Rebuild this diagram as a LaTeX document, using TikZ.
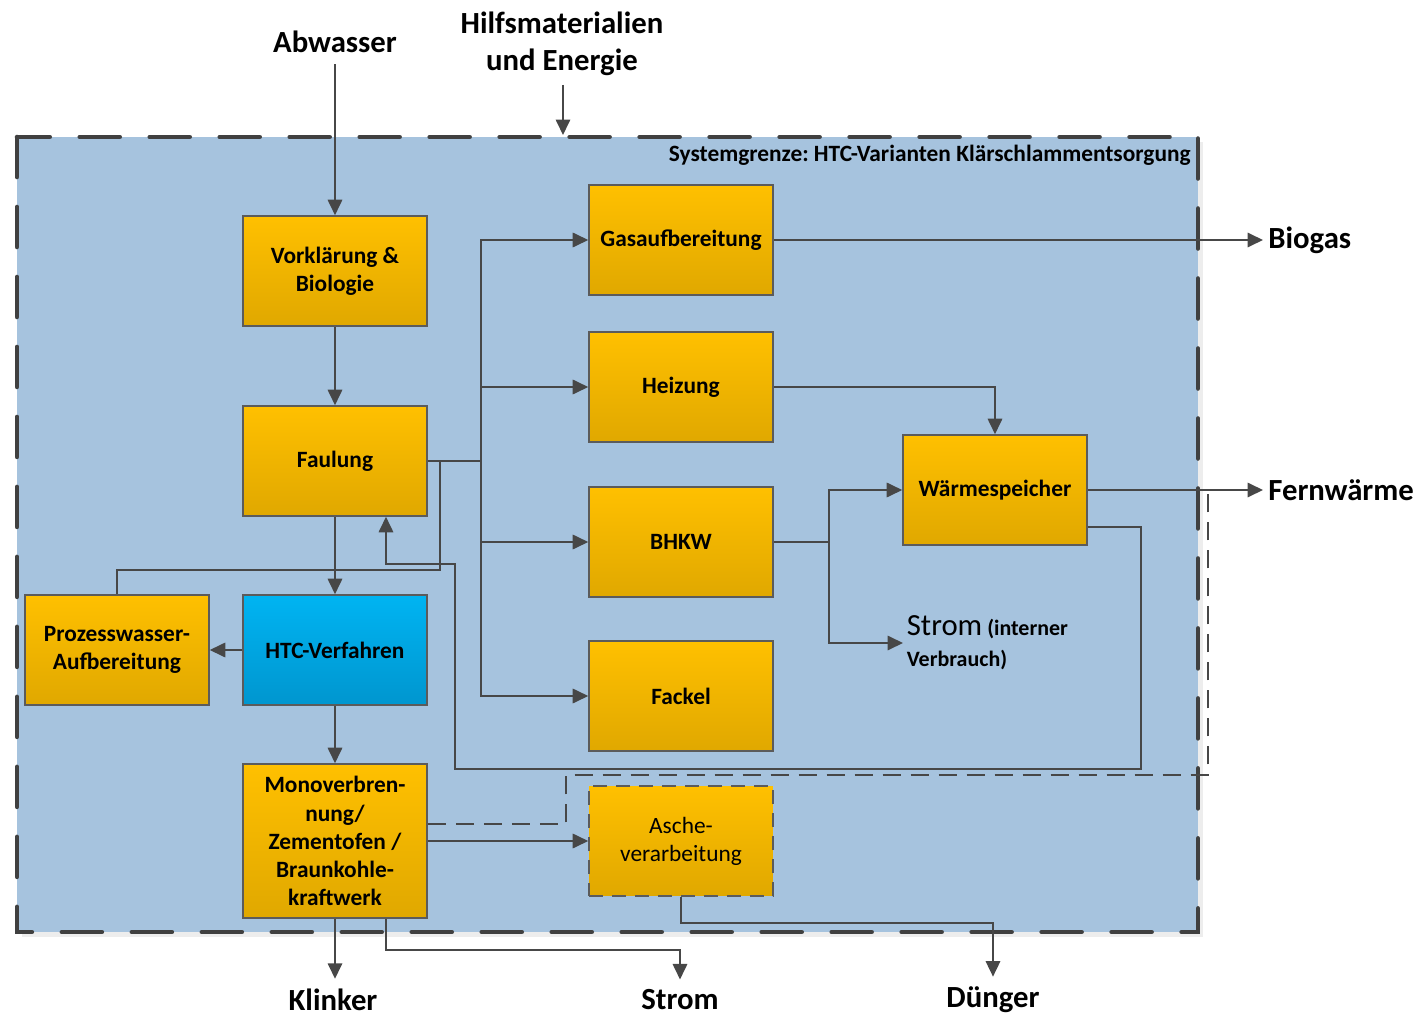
\documentclass[tikz,border=0pt]{standalone}
\usepackage{fontspec}
\setmainfont{Carlito}
\usetikzlibrary{arrows.meta}
\frenchspacing

\definecolor{grenzblau}{HTML}{A6C3DE}
\definecolor{grenzlinie}{HTML}{404040}
\definecolor{linie}{HTML}{474747}
\definecolor{rahmen}{HTML}{5B5B5B}
\definecolor{gelboben}{HTML}{FFC000}
\definecolor{gelbunten}{HTML}{E0A800}
\definecolor{blauoben}{HTML}{00B4F2}
\definecolor{blauunten}{HTML}{0096CF}

\tikzset{
  prozess/.style={draw=rahmen, line width=0.9pt, top color=gelboben, bottom color=gelbunten,
    minimum width=3.68cm, minimum height=2.2cm, inner sep=1pt, align=center,
    font=\bfseries\fontsize{13.3}{16}\selectfont},
  htc/.style={prozess, top color=blauoben, bottom color=blauunten},
  optional/.style={prozess, dash pattern=on 0.28cm off 0.18cm, font=\fontsize{13.3}{16}\selectfont},
  aussen/.style={font=\bfseries\fontsize{17.5}{21}\selectfont, align=center, inner sep=0pt},
  fluss/.style={draw=linie, line width=1pt, -{Triangle[length=3.1mm,width=2.9mm]}},
  leitung/.style={draw=linie, line width=1pt},
  waerme/.style={draw=linie, line width=1.1pt, dash pattern=on 0.36cm off 0.2cm},
}

\begin{document}
\begin{tikzpicture}[x=0.02cm, y=-0.02cm]
\useasboundingbox (0,0) rectangle (1421,1017);

% Systemgrenze
\fill[black!7] (22,142) rectangle (1203,937);
\draw[grenzlinie, fill=grenzblau, line width=2.6pt, line cap=round, dash pattern=on 0.8cm off 0.6cm] (17,137) rectangle (1198,932);
\node[anchor=east, inner sep=0pt, font=\bfseries\fontsize{13.3}{15}\selectfont] (grenze) at (1191,155) {Systemgrenze: HTC-Varianten Klärschlammentsorgung};

% Prozesse
\node[prozess] (vorklaerung) at (335,271) {Vorklärung \&\\Biologie};
\node[prozess] (faulung) at (335,461) {Faulung};
\node[htc] (htc) at (335,650) {HTC-Verfahren};
\node[prozess] (prozesswasser) at (117,650) {Prozesswasser-\\Aufbereitung};
\node[prozess, minimum height=3.08cm] (mono) at (335,841) {Monoverbren-\\nung/\\Zementofen /\\Braunkohle-\\kraftwerk};
\node[prozess] (gas) at (681,240) {Gasaufbereitung};
\node[prozess] (heizung) at (681,387) {Heizung};
\node[prozess] (bhkw) at (681,542) {BHKW};
\node[prozess] (fackel) at (681,696) {Fackel};
\node[prozess] (speicher) at (995,490) {Wärmespeicher};
\node[optional] (asche) at (681,841) {Asche-\\verarbeitung};

% Ein- und Ausgaenge
\node[aussen] (abwasser) at (335,42) {Abwasser};
\node[aussen] (hilfs) at (562,44) {Hilfsmaterialien\\und Energie};
\node[aussen, anchor=west] (biogas) at (1268,240) {Biogas};
\node[aussen, anchor=west] (fernwaerme) at (1268,490) {Fernwärme};
\node[aussen] (klinker) at (333,1000) {Klinker};
\node[aussen] (strom) at (680,1000) {Strom};
\node[aussen] (duenger) at (993,1000) {Dünger};
\node[anchor=west, align=left, inner sep=2pt, font=\bfseries\fontsize{12.5}{17.5}\selectfont] (stromintern) at (903,643) {{\mdseries\fontsize{17.5}{21}\selectfont Strom} (interner\\Verbrauch)};

\coordinate (grenzeoben) at (563,135);
\coordinate (verteiler) at (481,461);
\coordinate (pwknoten) at (440,461);
\coordinate (bhkwknoten) at (829,542);
\coordinate (fernknoten) at (1208,490);

% Stoffstroeme
\draw[fluss] ([yshift=-0.22cm]abwasser.south) -- (vorklaerung.north);
\draw[fluss] (grenzeoben |- 0,85) -- (grenzeoben);
\draw[fluss] (vorklaerung) -- (faulung);
\draw[fluss] (faulung) -- (htc);
\draw[fluss] (htc) -- (prozesswasser);
\draw[fluss] (htc) -- (mono);
\draw[fluss] (mono) -- (asche);

\draw[leitung] (faulung.east) -- (verteiler);
\foreach \ziel in {gas,heizung,bhkw,fackel}
  \draw[fluss] (verteiler) |- (\ziel.west);
\draw[leitung] (prozesswasser.north) -- ++(0,-24) -| (pwknoten);

\draw[fluss] ([yshift=-0.74cm]speicher.east) -| (1141,769) -| (455,564) -| ([xshift=1.02cm]faulung.south);
\draw[fluss] (heizung.east) -| (speicher.north);
\draw[leitung] (bhkw.east) -- (bhkwknoten);
\draw[fluss] (bhkwknoten) |- (speicher.west);
\draw[fluss] (bhkwknoten) |- (stromintern.west);
\draw[fluss, shorten >=0.1cm] (gas.east) -- (biogas.west);
\draw[fluss, shorten >=0.1cm] (speicher.east) -- (fernwaerme.west);
\draw[waerme] ([yshift=0.34cm]mono.east) -| (566,775) -| (fernknoten);

\draw[fluss, shorten >=0.2cm] (mono.south) -- (mono.south |- klinker.north);
\draw[fluss, shorten >=0.2cm] ([xshift=1.02cm]mono.south) -- ++(0,31) -| (strom.north);
\draw[fluss, shorten >=0.2cm] (asche.south) -- ++(0,26) -| (duenger.north);
\end{tikzpicture}
\end{document}
